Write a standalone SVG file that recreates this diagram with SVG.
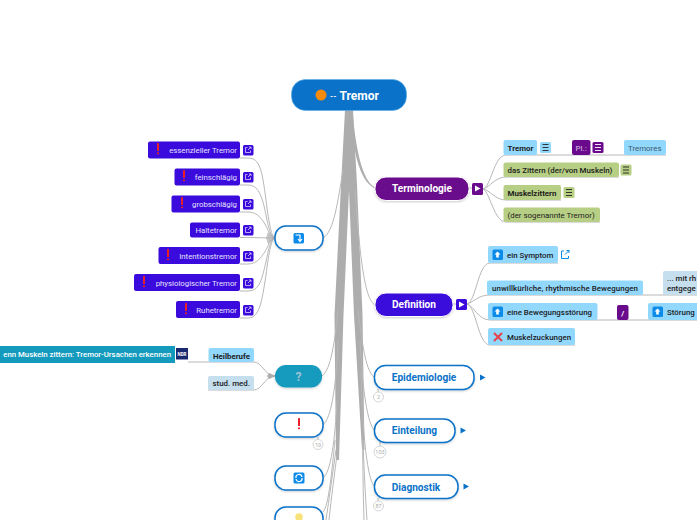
<svg xmlns="http://www.w3.org/2000/svg" width="697" height="520" viewBox="0 0 697 520">
<defs>
<filter id="sh" x="-10%" y="-20%" width="120%" height="150%"><feDropShadow dx="0" dy="1" stdDeviation="0.800" flood-color="#000" flood-opacity="0.200"/></filter>
<g id="ext"><rect x="-5" y="-5" width="10.500" height="10.500" rx="1.500" fill="#3a0bdc"/><path d="M-0.500,-2.500H-2.500V2.500H2.500V0.500M0,0L3,-3M1,-3H3V-1" fill="none" stroke="#d8d0ff" stroke-width="0.800"/></g>
<g id="menu"><rect x="-5.500" y="-5.500" width="11" height="11" rx="1.500"/><path d="M-3,-3H3M-3,0H3M-3,3H3" fill="none" stroke="#222" stroke-width="0.900"/></g>
<g id="excl"><rect x="-1" y="-6" width="2" height="8" rx="0.600" fill="#e8202a"/><circle cx="0" cy="4.300" r="1.100" fill="#e8202a"/></g>
<g id="up"><rect x="-5" y="-5" width="10.500" height="10.500" rx="1.500" fill="#0d8be8"/><path d="M0,-3L3,0H1.300V3H-1.300V0H-3Z" fill="#fff"/></g>
<g id="play"><path d="M-2.500,-3L3,0L-2.500,3Z"/></g>
</defs>
<style>
text{font-family:Roboto,"Liberation Sans",sans-serif}
.lbl{font-size:7.800px;fill:#e6e0ff;font-weight:400;text-anchor:end}
.sm{font-size:7.900px;fill:#1c1c1c;font-weight:500}
.bld{font-weight:700}
.big{font-size:10.100px;font-weight:700;text-anchor:middle}
.rb{fill:#fff;stroke:#0a72c8;stroke-width:1.500}
.lb{fill:#92d7fc}.gr{fill:#b7cf84}.pb{fill:#c5dfee}.vi{fill:#3a0bdc}
.con{fill:none;stroke:#b8b8b8;stroke-width:1}
.bg{fill:#adadad}
.badge{fill:#fff;stroke:#cfcfcf;stroke-width:0.900}
.bt{font-size:5.500px;fill:#aaa;text-anchor:middle}
</style>
<rect width="697" height="520" fill="#fff"/>
<g id="connectors">
<path class="bg" d="M345,110H353L357,185L362.500,315L364.500,450L362,450L354,315L349,190L343.500,315L339,460L336,460L334.500,315L341,185Z"/>
<path class="bg" d="M350,112C353,150 359,181 375,188.500L375,187.500C362,180 356,150 352.500,112Z"/>
<path class="con" d="M375,305C365,300 360,260 355,190"/>
<path class="con" d="M323,238C334,232 338,200 343,170M322,376C331,370 335,340 338,310M323,425C331,418 336,390 338,340M323,478C331,472 335,440 337,400M323,512C329,505 332,470 335,440M326,520C329,500 333,470 336,450M329,520C331,500 335,470 337,455M374,377C365,370 362,340 358,310M374,430C366,420 362,380 360,340M374,486C366,476 362,420 361,370M367,520C365,490 364,470 363,440M364,520C363,490 363,470 362.500,440"/>
<path class="con" d="M240,158H248C260,158 262,170 266,200C269,225 272,238 275,238M240,185H248C258,185 262,195 266,215C269,232 272,238 275,238M240,212H248C258,212 263,220 267,228C270,235 272,238 275,238M240,237.500C255,237.500 265,238 275,238M240,264H248C258,264 263,255 267,248C270,241 272,238 275,238M240,291H248C260,291 262,278 266,262C269,245 272,238 275,238M240,318H248C260,318 262,300 266,275C269,250 272,238 275,238"/>
<path class="bg" d="M275,237.500L268,232L266,238L268,244L275,238.500Z" opacity="0.700"/>
<path class="con" d="M469,188H472M483,189C491,187 494,155 506,155H666M483,189C490,187 495,177 506,177H619M483,189C490,190 495,200 506,200H561M483,189C490,192 494,222 506,222H600"/>
<path class="con" d="M453,304H456M467,304C476,302 478,263 490,263H558M467,304C474,302 478,295 490,295H697M467,304C474,306 478,320 490,320H697M467,304C476,306 478,345 490,345H575"/>
<path class="con" stroke-width="1.200" d="M275,376C265,376 262,362 254,362H188M275,376C265,376 262,390 254,390H208"/>
<path class="bg" d="M275,375.500L269,373L267,376L269,379L275,376.500Z"/>
<path class="con" d="M318,437V440M378,389V392M380,442V446M378,498V501"/>
</g>
<g id="root"><rect x="291.500" y="79.500" width="115" height="31" rx="14" fill="#0a72c8" stroke="#5aaee8" stroke-width="0.600"/><circle cx="321" cy="95" r="5.500" fill="#f58a0b"/><text x="330" y="98.500" font-size="8" font-weight="700" fill="#fff">--</text><text x="339.500" y="99.500" font-size="12" font-weight="700" fill="#fff">Tremor</text></g>

<g id="n-essenziell"><rect class="vi" x="148" y="141.500" width="92" height="17" rx="2"/><use href="#excl" x="158" y="149"/><text class="lbl" x="237" y="153">essenzieller Tremor</text><use href="#ext" x="248" y="150"/></g>
<g id="n-fein"><rect class="vi" x="174.500" y="168.500" width="65.500" height="17" rx="2"/><use href="#excl" x="184" y="176"/><text class="lbl" x="237" y="180">feinschlägig</text><use href="#ext" x="248" y="177"/></g>
<g id="n-grob"><rect class="vi" x="171.500" y="195.500" width="68.500" height="17" rx="2"/><use href="#excl" x="182" y="203"/><text class="lbl" x="237" y="207">grobschlägig</text><use href="#ext" x="248" y="204"/></g>
<g id="n-halte"><rect class="vi" x="190" y="222.500" width="50" height="15" rx="2"/><text class="lbl" x="237" y="233">Haltetremor</text><use href="#ext" x="248" y="230"/></g>
<g id="n-intention"><rect class="vi" x="158.500" y="247" width="81.500" height="17" rx="2"/><use href="#excl" x="168" y="255"/><text class="lbl" x="237" y="259">Intentionstremor</text><use href="#ext" x="248" y="256"/></g>
<g id="n-physio"><rect class="vi" x="134" y="274" width="106" height="17" rx="2"/><use href="#excl" x="144" y="282"/><text class="lbl" x="237" y="286">physiologischer Tremor</text><use href="#ext" x="248" y="283"/></g>
<g id="n-ruhe"><rect class="vi" x="176" y="301" width="64" height="17" rx="2"/><use href="#excl" x="186" y="309"/><text class="lbl" x="237" y="313">Ruhetremor</text><use href="#ext" x="248" y="310"/></g>

<g id="n-arrow"><rect class="rb" x="275" y="226" width="48" height="24" rx="11" filter="url(#sh)"/><rect x="293.500" y="233" width="10.500" height="10.500" rx="1.500" fill="#0d8be8"/><path d="M295.500,235H300V240.500M298,239L300,241.500L302,239" fill="none" stroke="#fff" stroke-width="1.200"/></g>

<g id="n-terminologie"><rect x="375" y="177" width="94" height="23.500" rx="11" fill="#6a0a8c" stroke="#fff" filter="url(#sh)"/><text class="big" x="422" y="192" fill="#fff">Terminologie</text><rect x="472" y="183" width="11" height="12" rx="1.500" fill="#6a0a8c"/><use href="#play" x="477.500" y="188.500" fill="#fff"/></g>
<g id="n-tremor"><rect class="lb" x="503.500" y="140" width="33.500" height="15" rx="2"/><text class="sm bld" x="507.500" y="150.500">Tremor</text><use href="#menu" x="545.500" y="147.500" fill="#92d7fc"/></g>
<g id="n-pl"><rect x="572" y="140" width="18.500" height="15" rx="2" fill="#6a0a8c"/><text x="575.500" y="150.500" font-size="7.800" font-weight="500" fill="#c8a8d8">Pl.:</text><rect x="592.500" y="142" width="11" height="11" rx="1.500" fill="#6a0a8c"/><path d="M595,144.500H601M595,147.500H601M595,150.500H601" stroke="#fff" stroke-width="0.900"/></g>
<g id="n-tremgres"><rect class="lb" x="624" y="140" width="42" height="15" rx="2"/><text class="sm" x="628" y="150.500" style="fill:#3a5a70;font-weight:400">Tremores</text></g>
<g id="n-zittern"><rect class="gr" x="503.500" y="162.500" width="115.500" height="14.500" rx="2"/><text class="sm" x="507.500" y="173">das Zittern (der/von Muskeln)</text><use href="#menu" x="626" y="170" fill="#b7cf84"/></g>
<g id="n-muskelzittern"><rect class="gr" x="503.500" y="185" width="57.500" height="15" rx="2"/><text class="sm bld" x="507.500" y="195.500">Muskelzittern</text><use href="#menu" x="569" y="192.500" fill="#b7cf84"/></g>
<g id="n-sogenannt"><rect class="gr" x="503.500" y="207.500" width="96.500" height="14.500" rx="2"/><text class="sm" x="507.500" y="218" style="font-weight:400">(der sogenannte Tremor)</text></g>

<g id="n-definition"><rect x="375" y="293" width="78" height="23.500" rx="11" fill="#3a0bdc" stroke="#fff" filter="url(#sh)"/><text class="big" x="414" y="308" fill="#fff">Definition</text><rect x="456" y="299" width="11" height="11" rx="1.500" fill="#3a0bdc"/><use href="#play" x="461.500" y="304.500" fill="#fff"/></g>
<g id="n-symptom"><rect class="lb" x="488" y="246" width="70" height="17" rx="2"/><use href="#up" x="497.500" y="254.500"/><text class="sm" x="507" y="258">ein Symptom</text><path d="M564,251H561.500V258.500H568.500V256M565,254.500L569,250.500M566.500,250.500H569V253" fill="none" stroke="#0d8be8"/></g>
<g id="n-unwill"><rect class="lb" x="487" y="280.500" width="156" height="14.500" rx="2"/><text class="sm" x="492" y="291" textLength="146">unwillkürliche, rhythmische Bewegungen</text></g>
<g id="n-mit"><rect class="pb" x="663" y="271" width="40" height="24" rx="2"/><text class="sm" x="667" y="281">... mit rh</text><text class="sm" x="667" y="291">entgege</text></g>
<g id="n-beweg"><rect class="lb" x="488" y="303" width="109.500" height="17" rx="2"/><use href="#up" x="497.500" y="311.500"/><text class="sm" x="507" y="315">eine Bewegungsstörung</text></g>
<g id="n-slash"><rect x="617" y="305" width="11.500" height="15" rx="2" fill="#6a0a8c"/><text x="622.800" y="316" font-size="8" font-weight="700" fill="#fff" text-anchor="middle">/</text></g>
<g id="n-stoerung"><rect class="lb" x="648" y="303" width="55" height="17" rx="2"/><use href="#up" x="657.500" y="311.500"/><text class="sm" x="667" y="315">Störung</text></g>
<g id="n-zuckung"><rect class="lb" x="488" y="328" width="87" height="17" rx="2"/><path d="M494,333L502,341M502,333L494,341" stroke="#e8404a" stroke-width="2"/><text class="sm" x="507" y="340">Muskelzuckungen</text></g>

<g id="n-quest"><rect x="275" y="365" width="47" height="22.500" rx="11" fill="#139abd" filter="url(#sh)"/><text x="298.500" y="380.500" font-size="12" font-weight="700" fill="#9fc4d4" text-anchor="middle">?</text></g>
<g id="n-heil"><rect class="lb" x="208.500" y="348" width="45.500" height="14" rx="2"/><text class="sm" x="213" y="358.500" style="font-weight:700">Heilberufe</text></g>
<g id="n-stud"><rect class="pb" x="208" y="376" width="46" height="14" rx="2"/><text class="sm" x="212.500" y="386">stud. med.</text></g>
<g id="n-link"><rect x="0" y="346" width="175" height="17" fill="#139abd"/><text x="171" y="357" font-size="7.800" font-weight="500" fill="#fff" text-anchor="end">enn Muskeln zittern: Tremor-Ursachen erkennen</text><rect x="176" y="348" width="12" height="11.500" fill="#1a2a70"/><text x="182" y="356" font-size="4.500" font-weight="700" fill="#fff" text-anchor="middle">NDR</text></g>

<g id="n-excl"><rect class="rb" x="275" y="413" width="48" height="24" rx="11" filter="url(#sh)"/><use href="#excl" x="299" y="424"/><circle class="badge" cx="318" cy="444.500" r="5"/><text class="bt" x="318" y="446.500">10</text></g>
<g id="n-refresh"><rect class="rb" x="275" y="466" width="48" height="24" rx="11" filter="url(#sh)"/><rect x="293.500" y="472.500" width="11" height="11" rx="1.500" fill="#0d8be8"/><path d="M296,478A3,3 0 0 1 302,477M302,478A3,3 0 0 1 296,479" fill="none" stroke="#fff" stroke-width="1.200"/></g>
<g id="n-bulb"><rect class="rb" x="275" y="507" width="48" height="24" rx="11" filter="url(#sh)"/><circle cx="299" cy="517" r="3.800" fill="#f8e27a"/></g>

<g id="n-epi"><rect class="rb" x="374.500" y="365.500" width="99.500" height="24" rx="11" filter="url(#sh)"/><text class="big" x="424" y="381" fill="#0a72c8">Epidemiologie</text><use href="#play" x="482.500" y="377.500" fill="#0a72c8"/><circle class="badge" cx="378.500" cy="397" r="5"/><text class="bt" x="378.500" y="399">2</text></g>
<g id="n-eint"><rect class="rb" x="374.500" y="419" width="80.500" height="23.500" rx="11" filter="url(#sh)"/><text class="big" x="414.500" y="434" fill="#0a72c8">Einteilung</text><use href="#play" x="463" y="430.500" fill="#0a72c8"/><circle class="badge" cx="380" cy="452" r="6"/><text class="bt" x="380" y="454">103</text></g>
<g id="n-diag"><rect class="rb" x="374.500" y="475" width="83.500" height="23.500" rx="11" filter="url(#sh)"/><text class="big" x="416" y="490.500" fill="#0a72c8">Diagnostik</text><use href="#play" x="466" y="486.500" fill="#0a72c8"/><circle class="badge" cx="378.500" cy="506" r="5"/><text class="bt" x="378.500" y="508">87</text></g>
</svg>
